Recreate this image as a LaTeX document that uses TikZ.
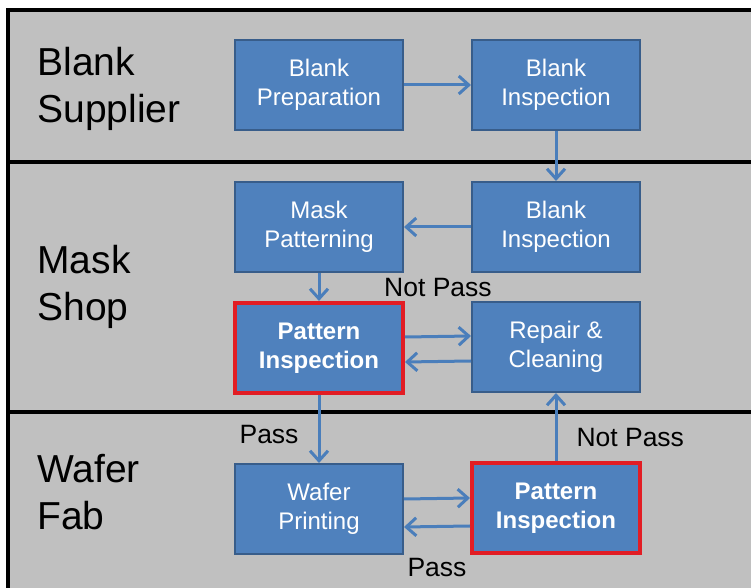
\documentclass[tikz,border=0pt]{standalone}
\usepackage{fontspec}
\setmainfont{Liberation Sans}
\usetikzlibrary{positioning,arrows.meta}

\definecolor{fondo}{RGB}{192,192,192}
\definecolor{azul}{RGB}{79,129,189}
\definecolor{azulborde}{RGB}{56,93,138}
\definecolor{flechaazul}{RGB}{74,126,187}
\definecolor{rojo}{RGB}{226,29,36}

\begin{document}
\begin{tikzpicture}[
x=0.5pt,
y=-0.5pt,
font=\fontsize{12}{14.4}\selectfont,
process/.style={
    draw=azulborde,
    line width=1pt,
    fill=azul,
    text=white,
    align=center,
    minimum width=84pt,
    minimum height=45pt,
    inner sep=0pt
},
inspect/.style={
    process,
    draw=rojo,
    line width=2pt,
    font=\fontsize{12}{14.4}\selectfont\bfseries
},
flow/.style={
    -{Straight Barb[length=5pt,width=9pt]},
    draw=flechaazul,
    line width=1.5pt
},
lane/.style={
    anchor=west,
    align=left,
    inner sep=0pt,
    font=\fontsize{19.5}{23.5}\selectfont
},
verdict/.style={
    inner sep=0pt,
    font=\fontsize{13.25}{16}\selectfont
}
]

% Fondo y franjas
\fill[white] (0,0) rectangle (751,588);
\fill[fondo] (8,10) rectangle (751,588);
\useasboundingbox (0,0) rectangle (751,588);

\draw[line width=2pt] (8,588) -- (8,10) -- (751,10);
\draw[line width=2pt] (8,162) -- (751,162);
\draw[line width=2pt] (8,412) -- (751,412);

% Etiquetas de franja
\node[lane] (supplier) at (37,89) {Blank\\Supplier};
\node[lane] (shop) at (37,287) {Mask\\Shop};
\node[lane] (fab) at (37,492) {Wafer\\Fab};

% Procesos
\node[process] (prep) at (319,85) {Blank\\Preparation};

\node[process, right=33.5pt of prep] (blankinsp) {Blank\\Inspection};

\node[process, below=25pt of blankinsp] (blankcheck) {Blank\\Inspection};

\node[process, below=25pt of prep] (patterning) {Mask\\Patterning};

\node[inspect, below=14pt of patterning] (maskinsp) {Pattern\\Inspection};

\node[process, below=14pt of blankcheck] (repair) {Repair \&\\Cleaning};

\node[process, below=34pt of maskinsp] (printing) {Wafer\\Printing};

\node[inspect, below=34pt of repair] (waferinsp) {Pattern\\Inspection};

% Flechas
\draw[flow]
(prep.east) -- (blankinsp.west);

\draw[flow]
(blankinsp.south) -- (blankcheck.north);

\draw[flow]
(blankcheck.west) -- (patterning.east);

\draw[flow]
(patterning.south) -- (maskinsp.north);

\draw[flow]
([yshift=5.5pt]maskinsp.east) --
node[verdict, above=19pt] {Not Pass}
([yshift=5.5pt]repair.west);

\draw[flow]
([yshift=-7pt]repair.west) -- ([yshift=-7pt]maskinsp.east);

\draw[flow]
(maskinsp.south) --
node[verdict, pos=0.58, left=9.5pt] {Pass}
(printing.north);

\draw[flow]
(waferinsp.north) --
node[verdict, pos=0.34, right=9.5pt] {Not Pass}
(repair.south);

\draw[flow]
([yshift=5pt]printing.east) -- ([yshift=5pt]waferinsp.west);

\draw[flow]
([yshift=-9pt]waferinsp.west) --
node[verdict, below=15pt] {Pass}
([yshift=-9pt]printing.east);

\end{tikzpicture}
\end{document}
